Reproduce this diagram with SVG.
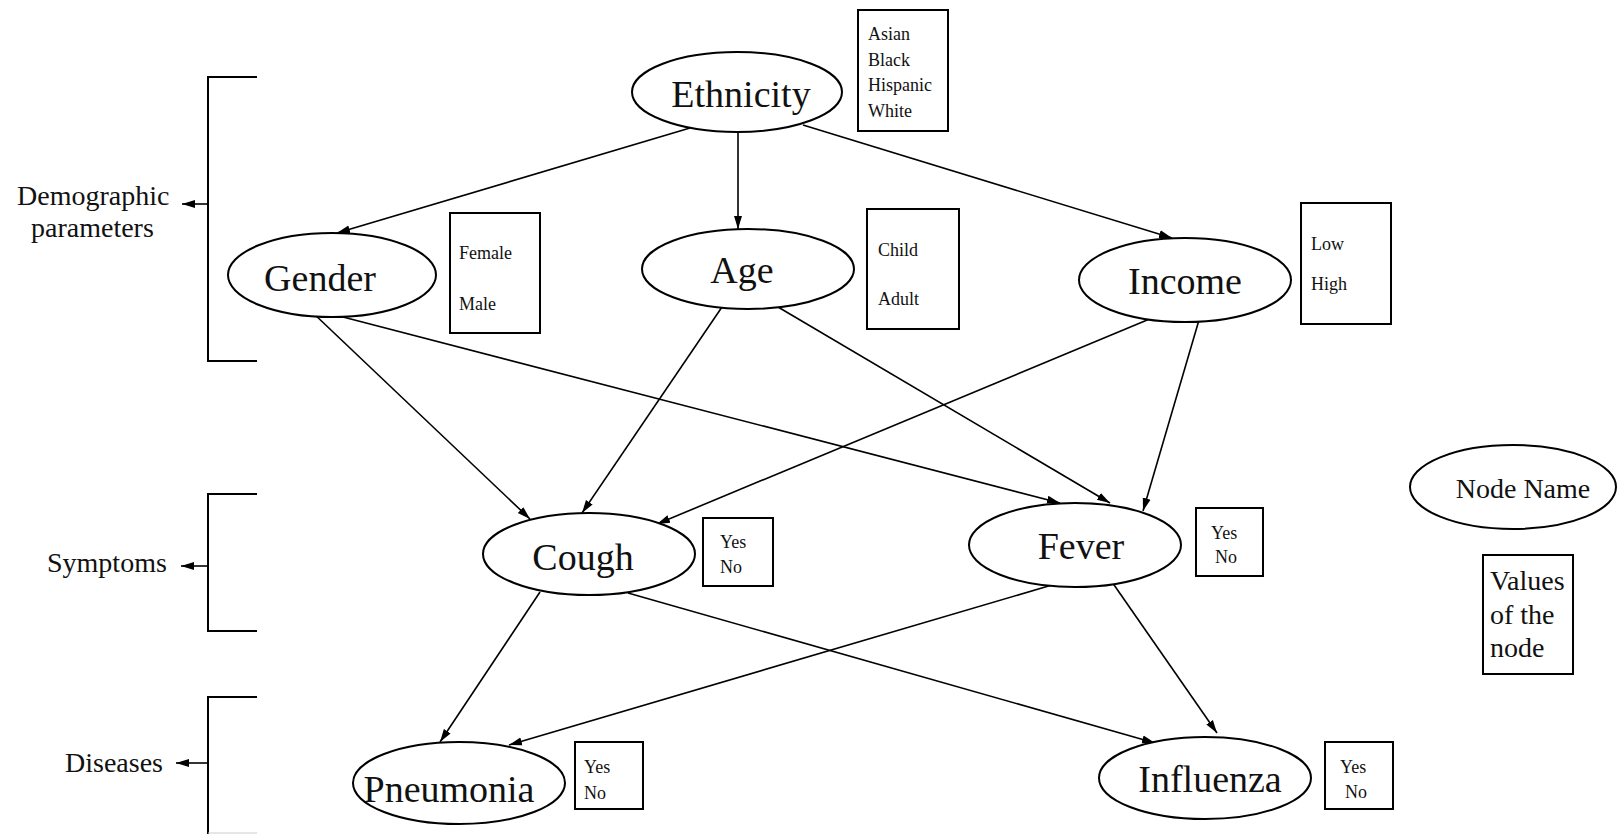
<svg xmlns="http://www.w3.org/2000/svg" width="1619" height="834" viewBox="0 0 1619 834">
<style>
  .node ellipse { fill: #ffffff; stroke: #000000; stroke-width: 2; }
  .node rect, .legend rect { fill: #ffffff; stroke: #000000; stroke-width: 2; }
  .name { font-family: "Liberation Serif", "Times New Roman", serif; font-size: 38px; fill: #111111; text-anchor: middle; }
  .val { font-family: "Liberation Serif", "Times New Roman", serif; font-size: 18px; fill: #111111; }
  .lbl { font-family: "Liberation Serif", "Times New Roman", serif; font-size: 28px; fill: #111111; }
  .edge { stroke: #000000; stroke-width: 1.6; fill: none; marker-end: url(#arr); }
  .brk { stroke: #000000; stroke-width: 2; fill: none; }
</style>
<defs>
  <marker id="arr" markerUnits="userSpaceOnUse" markerWidth="14" markerHeight="10" refX="13" refY="5" orient="auto">
    <path d="M0,1 L13,5 L0,9 Z" fill="#000000"/>
  </marker>
</defs>
<rect x="0" y="0" width="1619" height="834" fill="#ffffff"/>

<g id="brackets">
  <polyline class="brk" points="257,77 208,77 208,361 257,361"/>
  <polyline class="brk" points="257,494 208,494 208,631 257,631"/>
  <polyline class="brk" points="257,697 208,697 208,834"/>
  <line x1="208" y1="833" x2="257" y2="833" stroke="#cccccc" stroke-width="1"/>
  <text class="lbl" x="17" y="205">Demographic</text>
  <text class="lbl" x="31" y="237">parameters</text>
  <text class="lbl" x="47" y="572">Symptoms</text>
  <text class="lbl" x="65" y="772">Diseases</text>
</g>

<g id="connectors">
  <line class="edge" x1="208" y1="204" x2="182" y2="204"/>
  <line class="edge" x1="208" y1="566" x2="181" y2="566"/>
  <line class="edge" x1="208" y1="763" x2="176" y2="763"/>
  <line class="edge" x1="690" y1="128" x2="337" y2="233"/>
  <line class="edge" x1="738" y1="132" x2="738" y2="229"/>
  <line class="edge" x1="803" y1="125" x2="1172" y2="238"/>
  <line class="edge" x1="312" y1="312" x2="530" y2="519"/>
  <line class="edge" x1="343" y1="317" x2="1060" y2="503"/>
  <line class="edge" x1="722" y1="307" x2="582" y2="513"/>
  <line class="edge" x1="778" y1="307" x2="1110" y2="503"/>
  <line class="edge" x1="1152" y1="318" x2="657" y2="524"/>
  <line class="edge" x1="1199" y1="320" x2="1143" y2="511"/>
  <line class="edge" x1="540" y1="592" x2="440" y2="742"/>
  <line class="edge" x1="628" y1="593" x2="1155" y2="743"/>
  <line class="edge" x1="1052" y1="585" x2="509" y2="745"/>
  <line class="edge" x1="1112" y1="582" x2="1217" y2="733"/>
</g>

<g id="ethnicity" class="node">
  <ellipse cx="737" cy="92" rx="105" ry="40"/>
  <text class="name" x="741" y="107">Ethnicity</text>
  <rect x="858" y="10" width="90" height="121"/>
  <text class="val" x="868" y="40">Asian</text>
  <text class="val" x="868" y="66">Black</text>
  <text class="val" x="868" y="91">Hispanic</text>
  <text class="val" x="868" y="117">White</text>
</g>

<g id="gender" class="node">
  <ellipse cx="332" cy="275" rx="104" ry="42"/>
  <text class="name" x="320" y="291">Gender</text>
  <rect x="450" y="213" width="90" height="120"/>
  <text class="val" x="459" y="259">Female</text>
  <text class="val" x="459" y="310">Male</text>
</g>

<g id="age" class="node">
  <ellipse cx="748" cy="269" rx="106" ry="40"/>
  <text class="name" x="742" y="283">Age</text>
  <rect x="867" y="209" width="92" height="120"/>
  <text class="val" x="878" y="256">Child</text>
  <text class="val" x="878" y="305">Adult</text>
</g>

<g id="income" class="node">
  <ellipse cx="1185" cy="280" rx="106" ry="42"/>
  <text class="name" x="1185" y="294">Income</text>
  <rect x="1301" y="203" width="90" height="121"/>
  <text class="val" x="1311" y="250">Low</text>
  <text class="val" x="1311" y="290">High</text>
</g>

<g id="cough" class="node">
  <ellipse cx="589" cy="554" rx="106" ry="41"/>
  <text class="name" x="583" y="570">Cough</text>
  <rect x="703" y="518" width="70" height="68"/>
  <text class="val" x="720" y="548">Yes</text>
  <text class="val" x="720" y="573">No</text>
</g>

<g id="fever" class="node">
  <ellipse cx="1075" cy="545" rx="106" ry="42"/>
  <text class="name" x="1081" y="559">Fever</text>
  <rect x="1196" y="508" width="67" height="68"/>
  <text class="val" x="1211" y="539">Yes</text>
  <text class="val" x="1215" y="563">No</text>
</g>

<g id="pneumonia" class="node">
  <ellipse cx="459" cy="783" rx="106" ry="41"/>
  <text class="name" x="449" y="802">Pneumonia</text>
  <rect x="575" y="742" width="68" height="67"/>
  <text class="val" x="584" y="773">Yes</text>
  <text class="val" x="584" y="799">No</text>
</g>

<g id="influenza" class="node">
  <ellipse cx="1205" cy="778" rx="106" ry="41"/>
  <text class="name" x="1210" y="792">Influenza</text>
  <rect x="1325" y="742" width="68" height="67"/>
  <text class="val" x="1340" y="773">Yes</text>
  <text class="val" x="1345" y="798">No</text>
</g>

<g id="legend-node" class="node">
  <ellipse cx="1513" cy="487" rx="103" ry="42"/>
  <text class="lbl" x="1523" y="498" text-anchor="middle">Node Name</text>
</g>

<g id="legend-values" class="legend">
  <rect x="1483" y="555" width="90" height="119"/>
  <text class="lbl" x="1490" y="590">Values</text>
  <text class="lbl" x="1490" y="624">of the</text>
  <text class="lbl" x="1490" y="657">node</text>
</g>
</svg>
